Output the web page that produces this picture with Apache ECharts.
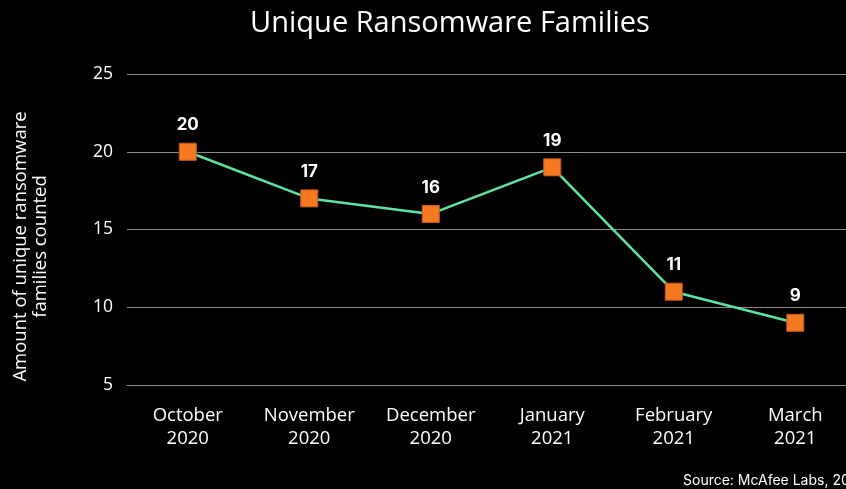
<!DOCTYPE html>
<html>
<head>
<meta charset="utf-8">
<script src="https://cdn.jsdelivr.net/npm/echarts@6/dist/echarts.min.js"></script>
<style>
  html, body { margin: 0; padding: 0; background: #000; }
  #chart { width: 846px; height: 489px; }
</style>
</head>
<body>
<div id="chart"></div>
<script>
let months = ['October\n2020', 'November\n2020', 'December\n2020', 'January\n2021', 'February\n2021', 'March\n2021'];
let families = [20, 17, 16, 19, 11, 9];
let yTicks = { min: 5, max: 25, step: 5 };

let font = '"Open Sans", "Noto Sans", sans-serif';

let option = {
    backgroundColor: '#000',
    animation: false,
    title: [
        {
            text: 'Unique Ransomware Families',
            left: 445,
            top: 4,
            textAlign: 'center',
            textStyle: { color: '#fff', fontSize: 29, fontWeight: 'normal', fontFamily: font }
        },
        {
            text: 'Source: McAfee Labs, 2021',
            left: 683,
            top: 474,
            padding: 0,
            textStyle: { color: '#fff', fontSize: 14, fontWeight: 'normal', fontFamily: 'Inter, sans-serif' }
        }
    ],
    grid: { left: 127, right: -10, top: 74, bottom: 104, outerBoundsMode: 'none' },
    xAxis: {
        type: 'category',
        data: months,
        axisLine: { lineStyle: { color: '#8a8a8a', width: 1 } },
        axisTick: { alignWithLabel: true, length: 6, lineStyle: { color: '#8a8a8a' } },
        axisLabel: { color: '#fff', fontSize: 18.5, fontFamily: font, margin: 19, lineHeight: 23 }
    },
    yAxis: {
        type: 'value',
        min: yTicks.min,
        max: yTicks.max,
        interval: yTicks.step,
        name: 'Amount of unique ransomware\nfamilies counted',
        nameLocation: 'middle',
        nameGap: 76,
        nameTextStyle: { color: '#fff', fontSize: 18.5, fontFamily: font, lineHeight: 20, padding: [0, 34, 0, 0] },
        axisLine: { show: false },
        axisTick: { show: false },
        axisLabel: { color: '#fff', fontSize: 17.5, fontFamily: font, margin: 14 },
        splitLine: { lineStyle: { color: '#8a8a8a', width: 1 } }
    },
    series: [
        {
            type: 'line',
            data: families,
            symbol: 'rect',
            symbolSize: 17,
            lineStyle: { color: '#5ee3a1', width: 2.5 },
            itemStyle: { color: '#f47920', borderColor: '#c9581a', borderWidth: 1 },
            label: {
                show: true,
                position: 'top',
                distance: 9,
                color: '#fff',
                fontSize: 17,
                fontWeight: 'bold',
                fontFamily: 'Inter, sans-serif'
            }
        }
    ]
};

let myChart = echarts.init(document.getElementById('chart'));
myChart.setOption(option);
</script>
</body>
</html>
